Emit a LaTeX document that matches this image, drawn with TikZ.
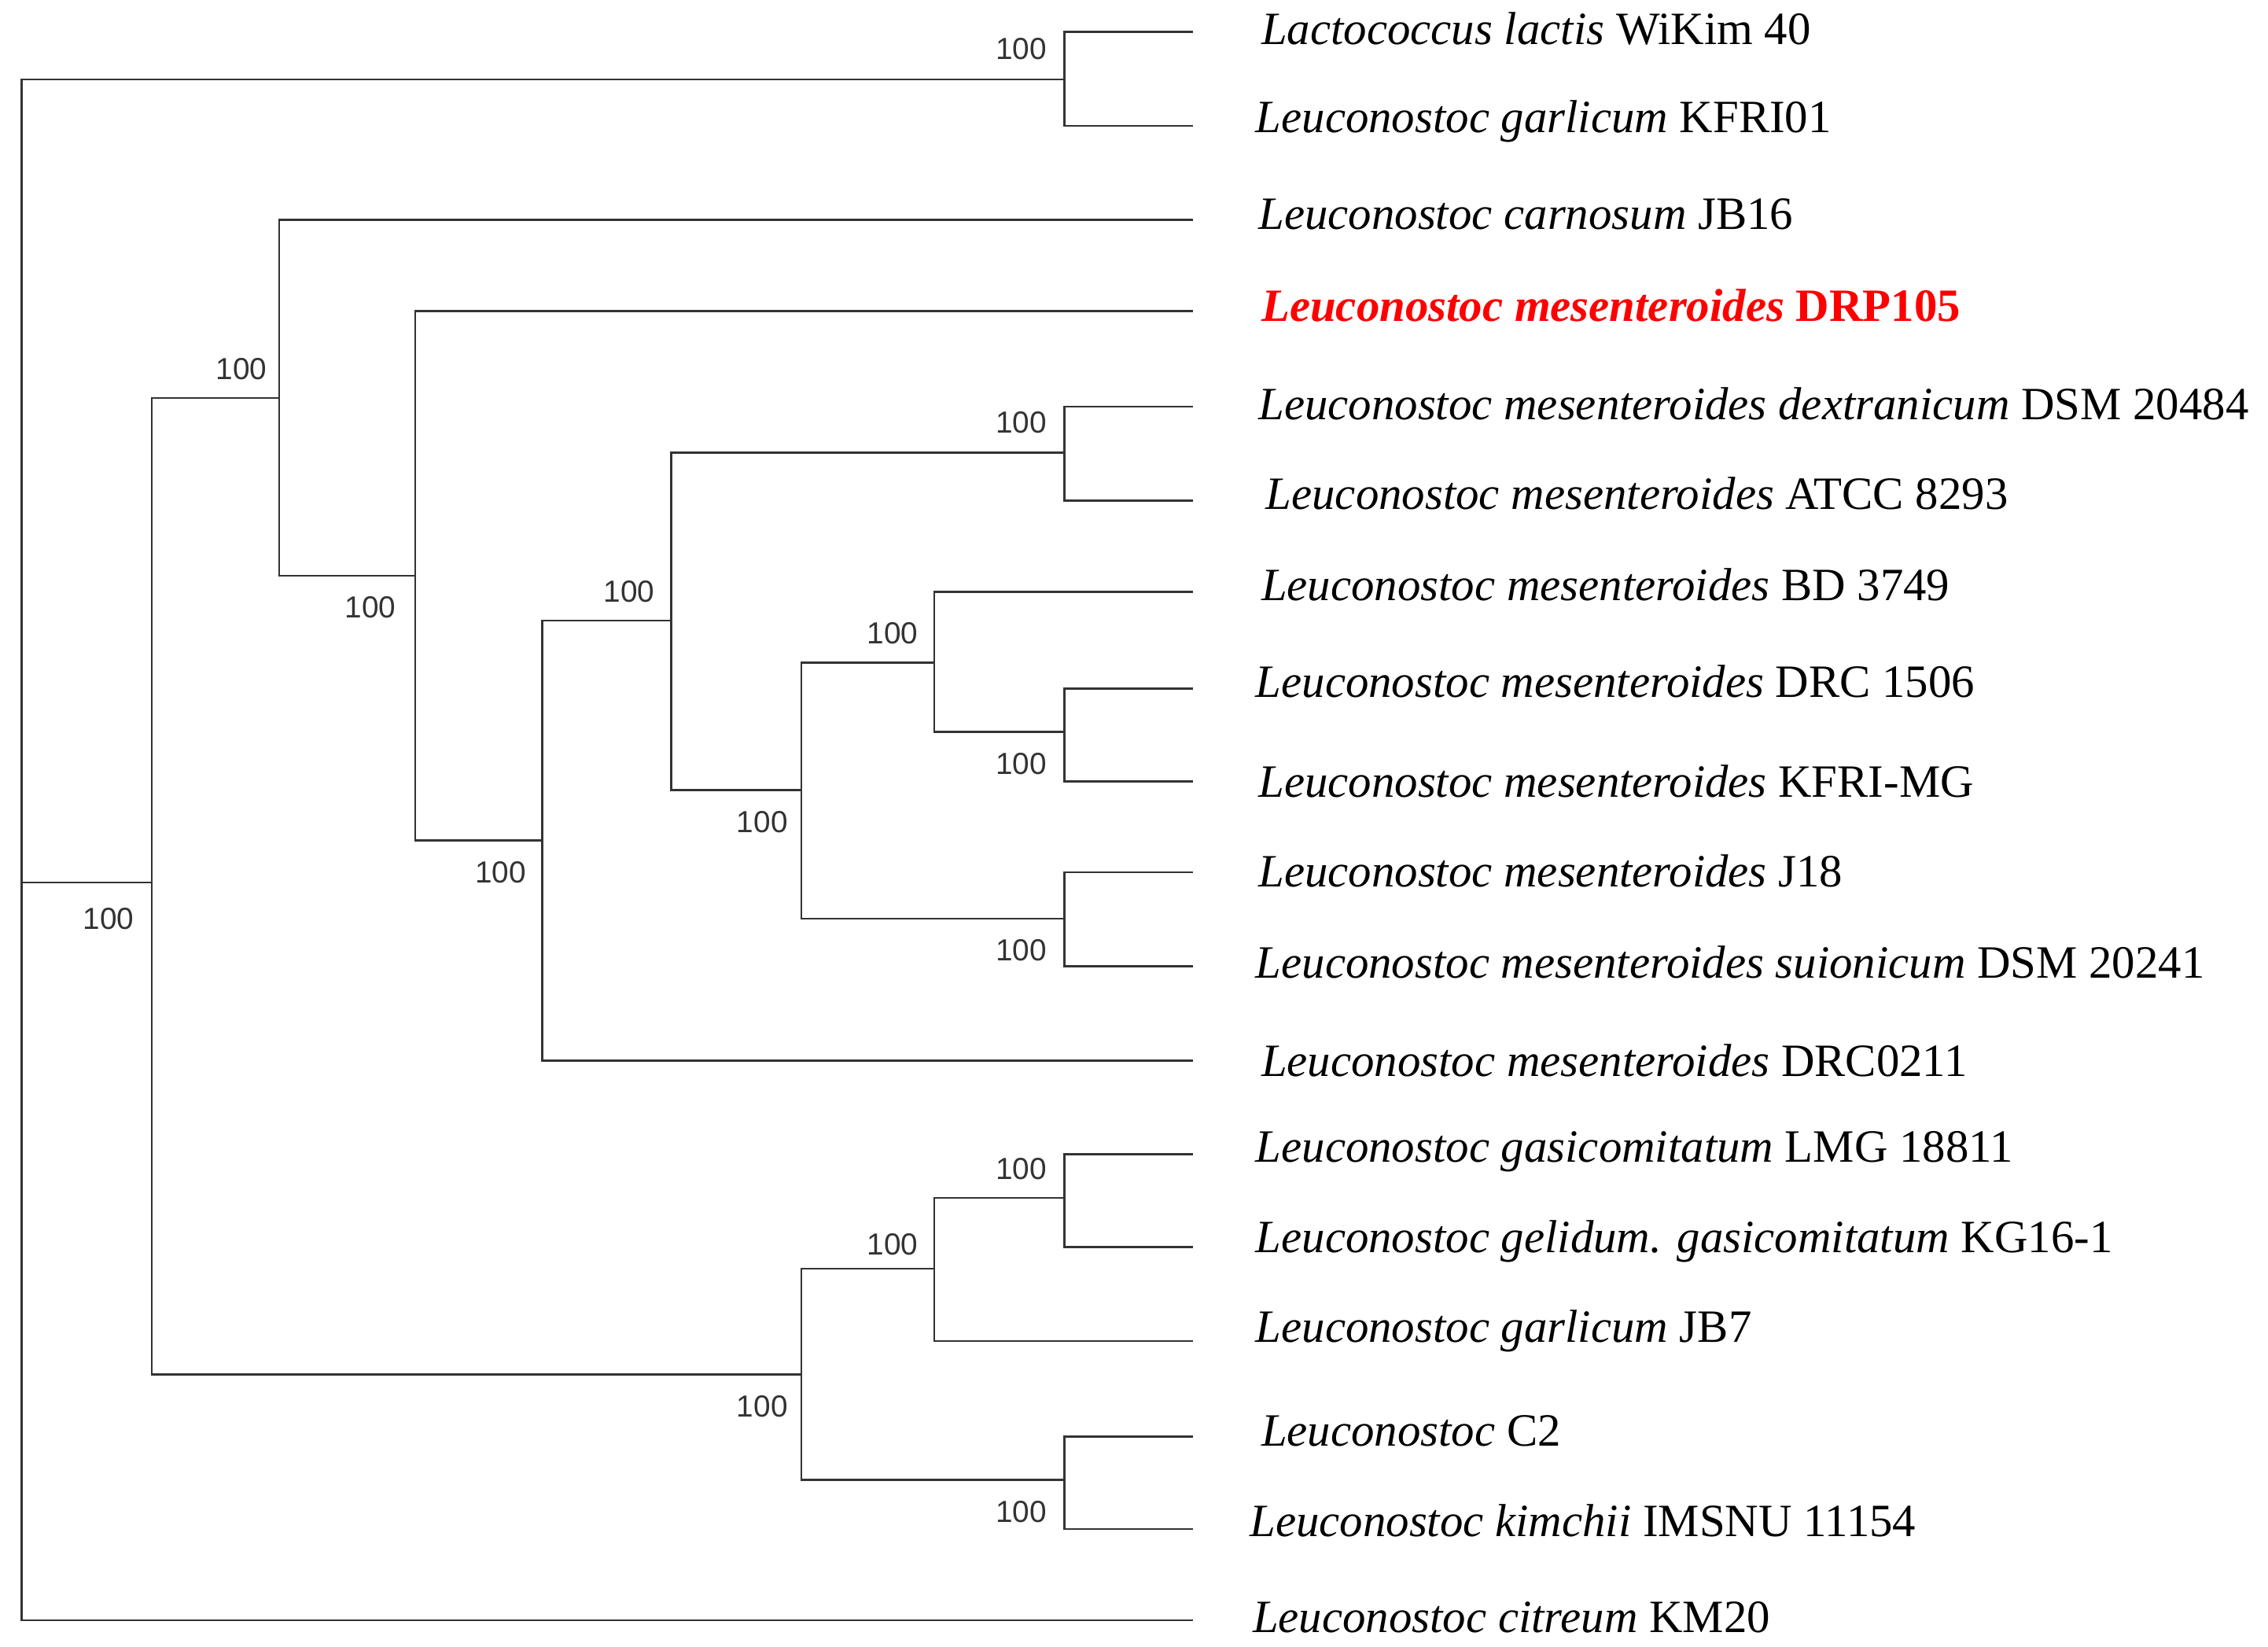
\documentclass[tikz,border=0pt]{standalone}
\usepackage{fontspec}
\setmainfont{Liberation Serif}
\newfontfamily\lblfont{Liberation Sans}
\begin{document}
\begin{tikzpicture}[x=0.05cm,y=-0.05cm,
  br/.style={line width=2pt,black!80},
  leaf/.style={anchor=west,inner sep=0pt,font=\fontsize{45.5}{48}\selectfont},
  bs/.style={inner sep=0pt,font=\lblfont\fontsize{30}{31}\selectfont,black!80}]
\useasboundingbox (0,0) rectangle (1568,1138);
% internal nodes
\coordinate (root) at (15,610);
\coordinate (nA) at (736,55);
\coordinate (nB) at (105,610);
\coordinate (nC) at (193,275);
\coordinate (nD) at (287,398);
\coordinate (nE) at (375,581);
\coordinate (nF) at (464,429);
\coordinate (nG) at (736,313);
\coordinate (nH) at (554,546);
\coordinate (nI) at (646,458);
\coordinate (nJ) at (736,506);
\coordinate (nK) at (736,635);
\coordinate (nL) at (554,950);
\coordinate (nM) at (646,877);
\coordinate (nN) at (736,828);
\coordinate (nO) at (736,1023);
% leaves
\foreach \n/\y in {l1/22,l2/87,l3/152,l4/215,l5/281,l6/346,l7/409,l8/476,l9/540,l10/603,l11/668,l12/733,l13/798,l14/862,l15/927,l16/993,l17/1057,l18/1120}
  \coordinate (\n) at (825,\y);
\node[leaf] (t1) at (872,20) {\textit{Lactococcus lactis} WiKim 40};
\node[leaf] (t2) at (868,84) {\textit{Leuconostoc garlicum} KFRI01};
\node[leaf] (t3) at (870,148) {\textit{Leuconostoc carnosum} JB16};
\node[leaf,text=red] (t4) at (872,211) {\textbf{\textit{Leuconostoc mesenteroides} DRP105}};
\node[leaf] (t5) at (870,279) {\textit{Leuconostoc mesenteroides dextranicum} DSM 20484};
\node[leaf] (t6) at (875,341) {\textit{Leuconostoc mesenteroides} ATCC 8293};
\node[leaf] (t7) at (872,404) {\textit{Leuconostoc mesenteroides} BD 3749};
\node[leaf] (t8) at (868,471) {\textit{Leuconostoc mesenteroides} DRC 1506};
\node[leaf] (t9) at (870,540) {\textit{Leuconostoc mesenteroides} KFRI-MG};
\node[leaf] (t10) at (870,602) {\textit{Leuconostoc mesenteroides} J18};
\node[leaf] (t11) at (868,665) {\textit{Leuconostoc mesenteroides suionicum} DSM 20241};
\node[leaf] (t12) at (872,733) {\textit{Leuconostoc mesenteroides} DRC0211};
\node[leaf] (t13) at (868,796) {\textit{Leuconostoc gasicomitatum} LMG 18811};
\node[leaf] (t14) at (868,858) {\textit{Leuconostoc gelidum. gasicomitatum} KG16-1};
\node[leaf] (t15) at (868,920) {\textit{Leuconostoc garlicum} JB7};
\node[leaf] (t16) at (872,989) {\textit{Leuconostoc} C2};
\node[leaf] (t17) at (864,1051) {\textit{Leuconostoc kimchii} IMSNU 11154};
\node[leaf] (t18) at (866,1118) {\textit{Leuconostoc citreum} KM20};
% branches
\draw[br] (root) |- (nA); \draw[br] (root) |- (l18); \draw[br] (root) -- (nB);
\draw[br] (nA) |- (l1); \draw[br] (nA) |- (l2);
\draw[br] (nB) |- (nC); \draw[br] (nB) |- (nL);
\draw[br] (nC) |- (l3); \draw[br] (nC) |- (nD);
\draw[br] (nD) |- (l4); \draw[br] (nD) |- (nE);
\draw[br] (nE) |- (nF); \draw[br] (nE) |- (l12);
\draw[br] (nF) |- (nG); \draw[br] (nF) |- (nH);
\draw[br] (nG) |- (l5); \draw[br] (nG) |- (l6);
\draw[br] (nH) |- (nI); \draw[br] (nH) |- (nK);
\draw[br] (nI) |- (l7); \draw[br] (nI) |- (nJ);
\draw[br] (nJ) |- (l8); \draw[br] (nJ) |- (l9);
\draw[br] (nK) |- (l10); \draw[br] (nK) |- (l11);
\draw[br] (nL) |- (nM); \draw[br] (nL) |- (nO);
\draw[br] (nM) |- (nN); \draw[br] (nM) |- (l15);
\draw[br] (nN) |- (l13); \draw[br] (nN) |- (l14);
\draw[br] (nO) |- (l16); \draw[br] (nO) |- (l17);
% bootstrap values
\foreach \n/\x/\y in {b1/706/34,b2/75/635,b3/167/255,b4/256/420,b5/346/603,b6/435/409,b7/706/292,b8/527/568,b9/617/438,b10/706/528,b11/706/657,b12/527/972,b13/617/860,b14/706/808,b15/706/1045}
  \node[bs] (\n) at (\x,\y) {100};
\end{tikzpicture}
\end{document}
